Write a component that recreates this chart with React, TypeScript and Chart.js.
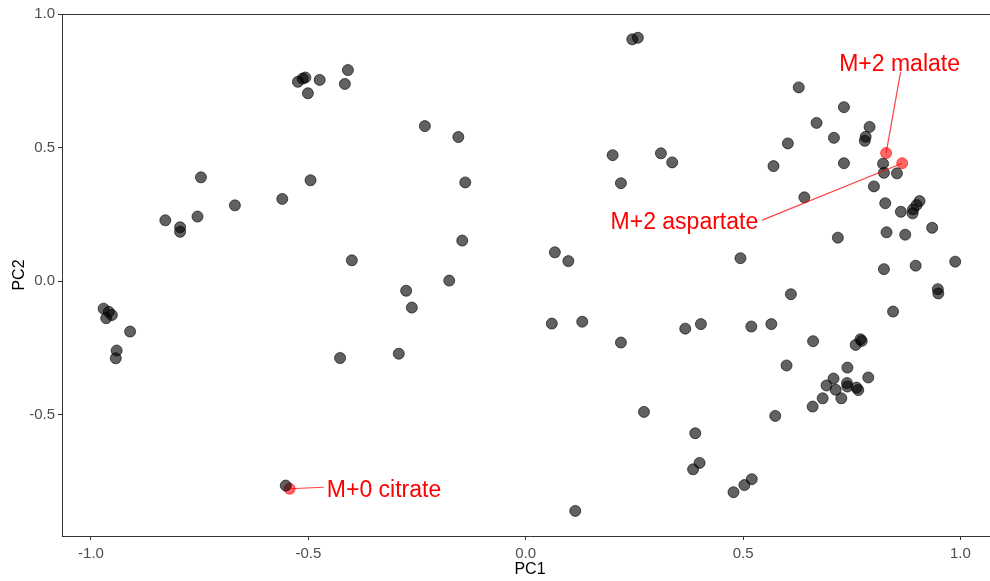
import React, { useEffect, useRef } from 'react';
import { Chart, registerables } from 'chart.js';

Chart.register(...registerables);

// PCA scores (all features)
const pc1 = [
  -0.524, -0.513, -0.507, -0.501, -0.474, -0.829, -0.795, -0.795, -0.755, -0.747,
  -0.669, -0.560, -0.495, -0.409, -0.416, -0.232, -0.155, -0.139, -0.146, -0.400,
  -0.275, -0.176, 0.067, 0.098, 0.200, 0.219, 0.245, 0.258, 0.628, 0.732,
  0.669, 0.791, 0.782, 0.780, 0.709, 0.603, 0.311, 0.337, 0.570, 0.732,
  0.822, 0.824, 0.854, 0.801, 0.641, 0.827, 0.906, 0.899, 0.891, 0.890,
  0.863, 0.935, 0.830, 0.873, 0.718, 0.494, 0.824, 0.897, 0.988, 0.610,
  0.948, 0.949, -0.971, -0.959, -0.952, -0.965, -0.910, -0.941, -0.943, -0.552,
  -0.262, -0.427, -0.292, 0.060, 0.130, 0.219, 0.272, 0.114, 0.845, 0.367,
  0.403, 0.519, 0.565, 0.661, 0.759, 0.770, 0.773, 0.600, 0.740, 0.788,
  0.708, 0.692, 0.713, 0.739, 0.740, 0.761, 0.765, 0.683, 0.726, 0.660,
  0.574, 0.390, 0.400, 0.385, 0.520, 0.503, 0.478,
];
const pc2 = [
  0.747, 0.759, 0.763, 0.704, 0.754, 0.228, 0.202, 0.185, 0.242, 0.389,
  0.284, 0.308, 0.378, 0.791, 0.739, 0.581, 0.540, 0.370, 0.152, 0.078,
  -0.036, 0.002, 0.108, 0.075, 0.472, 0.367, 0.906, 0.912, 0.726, 0.652,
  0.593, 0.578, 0.541, 0.526, 0.537, 0.516, 0.479, 0.445, 0.431, 0.442,
  0.440, 0.406, 0.404, 0.355, 0.314, 0.292, 0.300, 0.285, 0.269, 0.254,
  0.260, 0.200, 0.183, 0.174, 0.163, 0.086, 0.045, 0.058, 0.073, -0.049,
  -0.030, -0.046, -0.103, -0.115, -0.127, -0.139, -0.189, -0.260, -0.289, -0.766,
  -0.099, -0.288, -0.272, -0.159, -0.152, -0.230, -0.490, -0.861, -0.114, -0.178,
  -0.161, -0.170, -0.161, -0.225, -0.239, -0.218, -0.224, -0.316, -0.324, -0.361,
  -0.365, -0.391, -0.407, -0.382, -0.395, -0.399, -0.408, -0.439, -0.439, -0.470,
  -0.505, -0.570, -0.681, -0.705, -0.742, -0.764, -0.791,
];

// Highlighted features
const highlightNames = ['M+2 malate', 'M+2 aspartate', 'M+0 citrate'];
const highlightPC1 = [0.829, 0.866, -0.543];
const highlightPC2 = [0.480, 0.442, -0.778];
// Label anchor positions (text centre x, baseline y) in data units
const labelPC1 = [0.860, 0.365, -0.326];
const labelPC2 = [0.787, 0.194, -0.807];

const xTicks = [-1.0, -0.5, 0.0, 0.5, 1.0];
const yTicks = [-0.5, 0.0, 0.5, 1.0];

const FONT = '"Liberation Sans", Arial, Helvetica, sans-serif';

const labelPlugin = {
  id: 'repelLabels',
  afterDatasetsDraw(chart: any) {
    const { ctx, scales } = chart;
    const x = scales.x;
    const y = scales.y;
    ctx.save();
    ctx.font = `23px ${FONT}`;
    highlightNames.forEach((name, i) => {
      const px = x.getPixelForValue(highlightPC1[i]);
      const py = y.getPixelForValue(highlightPC2[i]);
      const cx = x.getPixelForValue(labelPC1[i]);
      const by = y.getPixelForValue(labelPC2[i]);
      const m = ctx.measureText(name);
      const w = m.width;
      const capTop = by - 16.5;
      const left = cx - w / 2 - 3;
      const right = cx + w / 2 + 4;
      const midY = (capTop + by) / 2 - 1;
      let ex: number;
      let ey: number;
      if (Math.abs(px - cx) > w / 2) {
        ex = px > cx ? right : left;
        ey = midY;
      } else {
        ex = cx + 1;
        ey = py > by ? by + 1 : capTop - 3;
      }
      ctx.strokeStyle = 'rgba(255,0,0,0.75)';
      ctx.lineWidth = 1.2;
      ctx.beginPath();
      ctx.moveTo(px, py);
      ctx.lineTo(ex, ey);
      ctx.stroke();
      ctx.fillStyle = '#FF0000';
      ctx.textAlign = 'center';
      ctx.textBaseline = 'alphabetic';
      ctx.fillText(name, cx, by);
    });
    ctx.restore();
  },
};

const topLinePlugin = {
  id: 'topLine',
  afterDraw(chart: any) {
    const { ctx, chartArea } = chart;
    ctx.save();
    ctx.strokeStyle = '#333333';
    ctx.lineWidth = 1;
    ctx.beginPath();
    ctx.moveTo(chartArea.left, Math.round(chartArea.top) + 0.5);
    ctx.lineTo(chartArea.right, Math.round(chartArea.top) + 0.5);
    ctx.stroke();
    ctx.restore();
  },
};

export default function App() {
  const canvasRef = useRef<HTMLCanvasElement | null>(null);

  useEffect(() => {
    if (!canvasRef.current) return;
    const blackPts = pc1.map((v, i) => ({ x: v, y: pc2[i] }));
    const redPts = highlightPC1.map((v, i) => ({ x: v, y: highlightPC2[i] }));
    const chart = new Chart(canvasRef.current, {
      type: 'scatter',
      data: {
        datasets: [
          {
            label: 'features',
            data: blackPts,
            pointRadius: 5.5,
            pointBorderWidth: 1,
            backgroundColor: 'rgba(0,0,0,0.62)',
            borderColor: 'rgba(0,0,0,0.62)',
          },
          {
            label: 'highlight',
            data: redPts,
            pointRadius: 5.5,
            pointBorderWidth: 1,
            backgroundColor: 'rgba(255,0,0,0.6)',
            borderColor: 'rgba(255,0,0,0.6)',
          },
        ],
      },
      options: {
        responsive: false,
        animation: false,
        events: [],
        layout: { autoPadding: false, padding: { left: 0, top: 14, right: 2, bottom: 0 } },
        plugins: {
          legend: { display: false },
          tooltip: { enabled: false },
        },
        scales: {
          x: {
            type: 'linear',
            position: 'bottom',
            min: -1.0667,
            max: 1.0864,
            afterBuildTicks: (s: any) => {
              s.ticks = xTicks.map((v) => ({ value: v }));
            },
            afterFit: (s: any) => {
              s.height = 45;
              s.paddingLeft = 0;
              s.paddingRight = 0;
            },
            ticks: {
              color: '#4D4D4D',
              font: { family: FONT, size: 15 },
              padding: 5,
              maxRotation: 0,
              callback: (v: any) => Number(v).toFixed(1),
            },
            grid: {
              drawOnChartArea: false,
              drawTicks: true,
              tickLength: 4,
              tickColor: '#333333',
            },
            border: { display: true, color: '#333333', width: 1 },
            title: {
              display: true,
              text: 'PC1',
              color: '#000000',
              font: { family: FONT, size: 16 },
              padding: { top: 0, bottom: 1.5 },
            },
          },
          y: {
            type: 'linear',
            position: 'left',
            min: -0.955,
            max: 1.001,
            afterBuildTicks: (s: any) => {
              s.ticks = yTicks.map((v) => ({ value: v }));
            },
            afterFit: (s: any) => {
              s.width = 62;
              s.paddingTop = 0;
              s.paddingBottom = 0;
            },
            ticks: {
              color: '#4D4D4D',
              font: { family: FONT, size: 15 },
              padding: 3,
              callback: (v: any) => Number(v).toFixed(1),
            },
            grid: {
              drawOnChartArea: false,
              drawTicks: true,
              tickLength: 4,
              tickColor: '#333333',
            },
            border: { display: true, color: '#333333', width: 1 },
            title: {
              display: true,
              text: 'PC2',
              color: '#000000',
              font: { family: FONT, size: 16 },
              padding: { top: 10, bottom: 0 },
            },
          },
        },
      },
      plugins: [labelPlugin, topLinePlugin],
    });
    return () => chart.destroy();
  }, []);

  return (
    <div
      style={{
        position: 'fixed',
        left: 0,
        top: 0,
        width: 990,
        height: 581,
        overflow: 'hidden',
        background: '#fff',
      }}
    >
      <canvas ref={canvasRef} width={1000} height={581} style={{ display: 'block' }} />
    </div>
  );
}
